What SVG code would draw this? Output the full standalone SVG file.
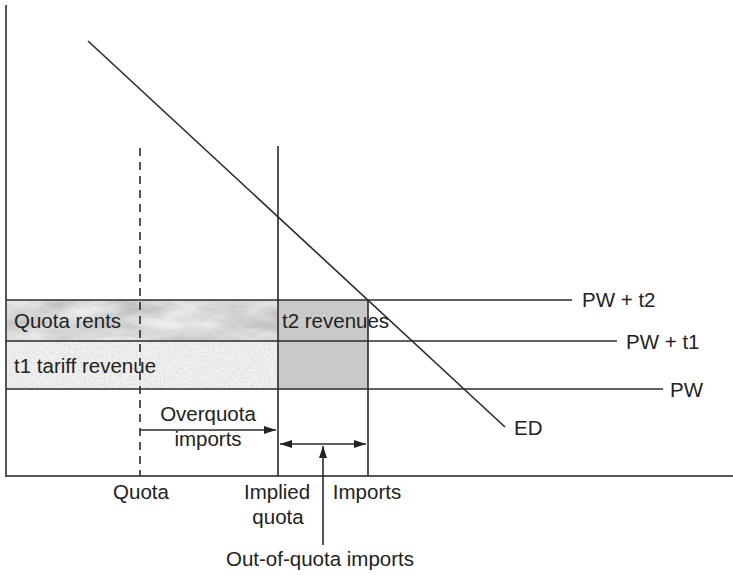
<svg xmlns="http://www.w3.org/2000/svg" width="733" height="575" viewBox="0 0 733 575">
<style>
.ln{stroke:#2a2a2a;stroke-width:1.6;fill:none}
.ax{stroke:#555;stroke-width:2;fill:none}
.t{font-family:"Liberation Sans",Arial,sans-serif;font-size:20.5px;fill:#222}
.m{text-anchor:middle}
</style>
<defs>
<filter id="marble" x="0" y="0" width="1" height="1">
<feTurbulence type="fractalNoise" baseFrequency="0.02 0.06" numOctaves="4" seed="3" result="n"/>
<feColorMatrix in="n" type="matrix" values="0 0 0 0 0.5  0 0 0 0 0.5  0 0 0 0 0.5  0 0 0 -1.6 1.25" result="g"/>
<feFlood flood-color="#ececec" result="bg"/>
<feComposite in="g" in2="bg" operator="over" result="c"/>
<feComposite in="c" in2="SourceGraphic" operator="in"/>
</filter>
<filter id="speck" x="0" y="0" width="1" height="1">
<feTurbulence type="fractalNoise" baseFrequency="0.5" numOctaves="2" seed="7" result="n"/>
<feColorMatrix in="n" type="matrix" values="0 0 0 0 0.6  0 0 0 0 0.6  0 0 0 0 0.6  0 0 0 -1.2 0.75" result="g"/>
<feFlood flood-color="#f1f1f1" result="bg"/>
<feComposite in="g" in2="bg" operator="over" result="c"/>
<feComposite in="c" in2="SourceGraphic" operator="in"/>
</filter>
<marker id="ah" viewBox="0 0 12 8" refX="12" refY="4" markerWidth="12" markerHeight="8" markerUnits="userSpaceOnUse" orient="auto-start-reverse">
<path d="M0,0 L12,4 L0,8 z" fill="#222"/>
</marker>
</defs>

<g id="bands">
<g id="quota-rents">
<rect x="6" y="300" width="272" height="41" fill="#e2e2e2" filter="url(#marble)"/>
<text class="t" x="14" y="328">Quota rents</text>
</g>
<g id="t1-tariff-revenue">
<rect x="6" y="341" width="272" height="48" fill="#efefef" filter="url(#speck)"/>
<text class="t" x="14" y="373">t1 tariff revenue</text>
</g>
<g id="t2-revenues">
<rect x="278" y="300" width="90" height="89" fill="#c9c9c9"/>
<text class="t" x="282" y="328">t2 revenues</text>
</g>
</g>

<g id="axes">
<line class="ax" x1="6" y1="5" x2="6" y2="476"/>
<line class="ax" x1="5" y1="476" x2="733" y2="476"/>
</g>

<g id="connectors">
<line class="ln" x1="6" y1="300" x2="572" y2="300"/>
<line class="ln" x1="6" y1="341" x2="617" y2="341"/>
<line class="ln" x1="6" y1="389" x2="663" y2="389"/>
<line class="ln" x1="140" y1="148" x2="140" y2="476" stroke-dasharray="8 6"/>
<line class="ln" x1="278" y1="146" x2="278" y2="476"/>
<line class="ln" x1="368" y1="300" x2="368" y2="476"/>
<line class="ln" x1="88" y1="41" x2="505" y2="427" stroke="#111" stroke-width="2"/>
<line class="ln" x1="140" y1="430" x2="276" y2="430" marker-end="url(#ah)"/>
<line class="ln" x1="280" y1="444" x2="366" y2="444" marker-start="url(#ah)" marker-end="url(#ah)"/>
<line class="ln" x1="323" y1="545" x2="323" y2="446" marker-end="url(#ah)"/>
</g>

<g id="labels">
<g id="pw-t2"><text class="t" x="582" y="307">PW + t2</text></g>
<g id="pw-t1"><text class="t" x="626" y="349">PW + t1</text></g>
<g id="pw"><text class="t" x="670" y="397">PW</text></g>
<g id="ed"><text class="t" x="514" y="435">ED</text></g>
<g id="overquota"><text class="t m" x="208" y="421">Overquota</text><text class="t m" x="208" y="446">imports</text></g>
<g id="quota"><text class="t m" x="141" y="499">Quota</text></g>
<g id="implied-quota"><text class="t m" x="277" y="499">Implied</text><text class="t m" x="278" y="524">quota</text></g>
<g id="imports"><text class="t m" x="367" y="499">Imports</text></g>
<g id="out-of-quota"><text class="t m" x="320" y="566">Out-of-quota imports</text></g>
</g>
</svg>
